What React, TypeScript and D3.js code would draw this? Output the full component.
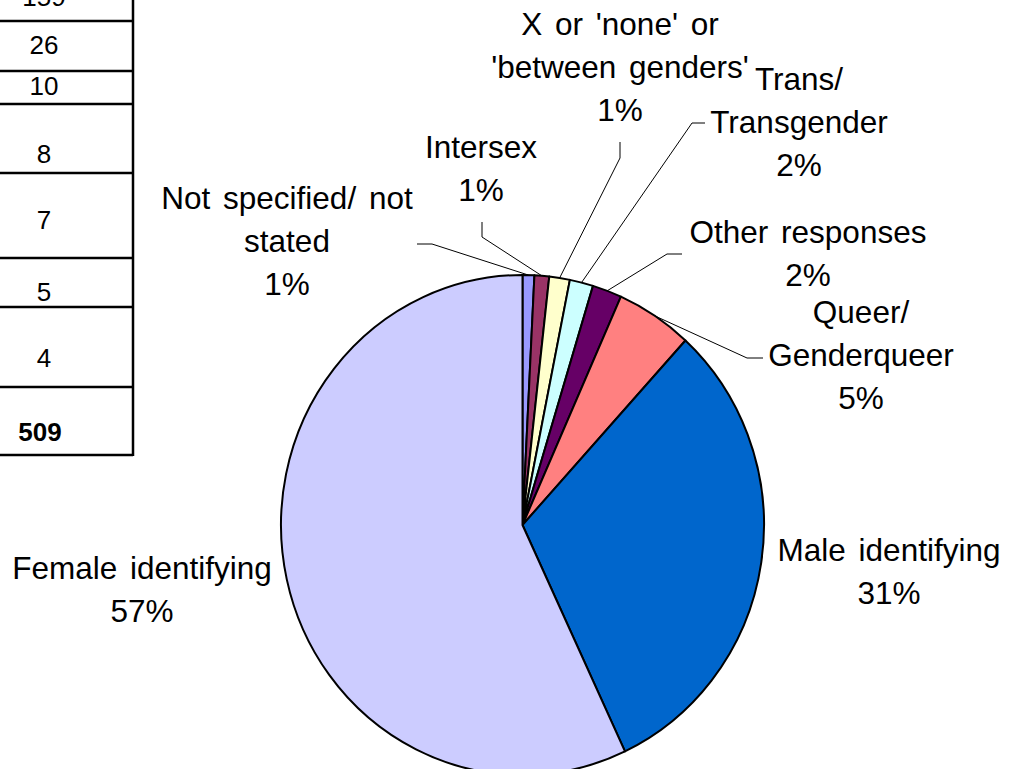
import * as d3 from "d3";

// slices, clockwise from 12 o'clock
const categories = [
  "Not specified/ not stated",
  "Intersex",
  "X or 'none' or 'between genders'",
  "Trans/ Transgender",
  "Other responses",
  "Queer/ Genderqueer",
  "Male identifying",
  "Female identifying",
];
const counts = [4, 5, 7, 8, 10, 26, 159, 290];
const colours = ["#9999FF", "#993366", "#FFFFCC", "#CCFFFF", "#660066", "#FF8080", "#0066CC", "#CCCCFF"];

// how each label is broken over lines
const labelLines = [
  ["Not specified/ not", "stated"],
  ["Intersex"],
  ["X or 'none' or", "'between genders'"],
  ["Trans/", "Transgender"],
  ["Other responses"],
  ["Queer/", "Genderqueer"],
  ["Male identifying"],
  ["Female identifying"],
];

// the table column at the left (top row is cut off by the picture)
const tableValues = [159, 26, 10, 8, 7, 5, 4];

// layout
const W = 1023;
const H = 769;
const cx = 522.5;
const cy = 525;
const rx = 241.5;
const ry = 250;
const fontFamily = "'Liberation Sans', Arial, sans-serif";
const lineH = 43;
const labelPos = [
  [287, 209], [481, 158], [620, 35], [799, 90], [808, 243], [861, 323], [889, 561], [142, 579],
];
// leader line from the label side: [start, elbow], then on to the pie edge
const leaders: ([number, number][] | null)[] = [
  [[417, 244], [432, 244]],
  [[482, 222], [482, 237]],
  [[620, 142], [620, 158]],
  [[705, 123], [692, 123]],
  [[682, 254], [667, 254]],
  [[763, 358], [747, 358]],
  null,
  null,
];
const rowEdges = [-30, 21, 71, 104, 173, 258, 307, 387, 455];
const rowTextMid = [-3, 45, 86, 154, 220, 292, 358, 432];
const tableRight = 133;

export default function App() {
  const total = d3.sum(counts);
  const pie = d3.pie<number>().sort(null).value((d) => d);
  const arcs = pie(counts);
  const arc = d3.arc<d3.PieArcDatum<number>>().innerRadius(0).outerRadius(ry);
  const pct = (v: number) => `${Math.round((v / total) * 100)}%`;

  const edgePoint = (a: d3.PieArcDatum<number>): [number, number] => {
    const m = (a.startAngle + a.endAngle) / 2;
    return [cx + rx * Math.sin(m), cy - ry * Math.cos(m)];
  };

  const tableRows = [...tableValues.map(String), String(total)];

  return (
    <svg
      width={W}
      height={H}
      style={{ position: "fixed", left: 0, top: 0, background: "#fff" }}
      fontFamily={fontFamily}
    >
      {/* table */}
      <g>
        {tableRows.map((t, i) => {
          const bottom = rowEdges[i + 1];
          const last = i === tableRows.length - 1;
          return (
            <g key={i}>
              <line x1={0} x2={tableRight} y1={bottom} y2={bottom} stroke="#000" strokeWidth={2.5} />
              <text
                x={last ? 40 : 44}
                y={rowTextMid[i] + 9}
                textAnchor="middle"
                fontSize={26}
                fontWeight={last ? "bold" : "normal"}
              >
                {t}
              </text>
            </g>
          );
        })}
        <line x1={tableRight} x2={tableRight} y1={0} y2={rowEdges[rowEdges.length - 1] + 1} stroke="#000" strokeWidth={2.5} />
      </g>

      {/* pie */}
      <g transform={`translate(${cx},${cy}) scale(${rx / ry},1)`}>
        {arcs.map((a, i) => (
          <path
            key={i}
            d={arc(a) as string}
            fill={colours[i]}
            stroke="#000"
            strokeWidth={2}
            strokeLinejoin="round"
            vectorEffect="non-scaling-stroke"
          />
        ))}
      </g>

      {/* leader lines */}
      {arcs.map((a, i) => {
        const l = leaders[i];
        if (!l) return null;
        const pts = [...l, edgePoint(a)];
        return <polyline key={i} points={pts.map((p) => p.join(",")).join(" ")} fill="none" stroke="#000" strokeWidth={1} />;
      })}

      {/* labels */}
      {arcs.map((a, i) => {
        const [x, y] = labelPos[i];
        const lines = [...labelLines[i], pct(a.data)];
        return (
          <text key={i} x={x} y={y} textAnchor="middle" fontSize={31.5} wordSpacing={4} fill="#000">
            {lines.map((s, j) => (
              <tspan key={j} x={x} y={y + j * lineH}>
                {s}
              </tspan>
            ))}
          </text>
        );
      })}
    </svg>
  );
}
